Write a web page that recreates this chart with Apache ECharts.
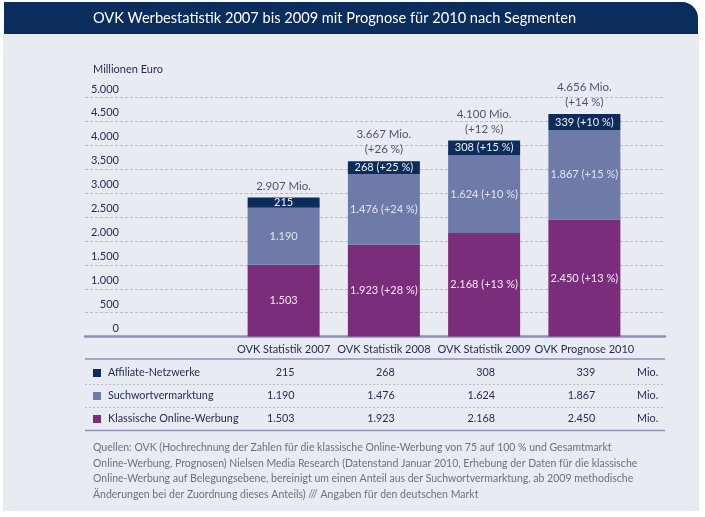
<!DOCTYPE html>
<html>
<head>
<meta charset="utf-8">
<script src="https://cdn.jsdelivr.net/npm/echarts@6/dist/echarts.min.js"></script>
<style>
html,body{margin:0;padding:0;background:#ffffff;}
#c{width:705px;height:517px;}
</style>
</head>
<body>
<div id="c"></div>
<script>
const titleText = 'OVK Werbestatistik 2007 bis 2009 mit Prognose für 2010 nach Segmenten';
const unitLabel = 'Millionen Euro';
const categories = ['OVK Statistik 2007', 'OVK Statistik 2008', 'OVK Statistik 2009', 'OVK Prognose 2010'];
const seriesNames = ['Affiliate-Netzwerke', 'Suchwortvermarktung', 'Klassische Online-Werbung'];
const affiliate = [215, 268, 308, 339];
const suchwort = [1190, 1476, 1624, 1867];
const klassisch = [1503, 1923, 2168, 2450];
const affGrowth = [null, 25, 15, 10];
const suchGrowth = [null, 24, 10, 15];
const klassGrowth = [null, 28, 13, 13];
const totals = [2907, 3667, 4100, 4656];
const totalGrowth = [null, 26, 12, 14];
const yMin = 0, yMax = 5000, yStep = 500;
const unitSuffix = 'Mio.';
const footnote = [
  'Quellen: OVK (Hochrechnung der Zahlen für die klassische Online-Werbung von 75 auf 100 % und Gesamtmarkt',
  'Online-Werbung, Prognosen) Nielsen Media Research (Datenstand Januar 2010, Erhebung der Daten für die klassische',
  'Online-Werbung auf Belegungsebene, bereinigt um einen Anteil aus der Suchwortvermarktung, ab 2009 methodische',
  'Änderungen bei der Zuordnung dieses Anteils) /// Angaben für den deutschen Markt'
];

const FONT = 'Lato';
const C_NAVY = '#0d2c5c';
const C_SLATE = '#6e7aa8';
const C_PURPLE = '#7a2d7b';
const C_TEXT = '#1e2a4c';
const C_LINE = '#8d92b8';
const C_BG = '#e9ebf3';

function fmt(v) { return String(v).replace(/\B(?=(\d{3})+(?!\d))/g, '.'); }
function segLabel(vals, gr) {
  return function (p) {
    const g = gr[p.dataIndex];
    return fmt(vals[p.dataIndex]) + (g != null ? ' (+' + g + ' %)' : '');
  };
}

const chart = echarts.init(document.getElementById('c'), null, { renderer: 'canvas' });

const gridTop = 97.5, gridBottom = 517 - 336.6;

chart.setOption({
  animation: false,
  textStyle: { fontFamily: FONT },
  grid: [
    { left: 85, right: 40, top: gridTop, bottom: gridBottom },
    { left: 233.5, right: 70.5, top: gridTop, bottom: gridBottom }
  ],
  xAxis: [
    { type: 'category', gridIndex: 0, data: categories,
      axisLine: { show: true, lineStyle: { color: C_LINE, width: 2.5 } },
      axisTick: { show: false }, axisLabel: { show: false }, splitLine: { show: false } },
    { type: 'category', gridIndex: 1, data: categories,
      axisLine: { show: false }, axisTick: { show: false },
      axisLabel: { show: true, interval: 0, margin: 7, color: C_TEXT, fontSize: 11, fontFamily: FONT } }
  ],
  yAxis: [
    { type: 'value', gridIndex: 0, min: yMin, max: yMax, interval: yStep,
      axisLine: { show: false }, axisTick: { show: false },
      splitLine: { show: true, lineStyle: { color: '#b7bbcb', type: [3, 2], width: 1 } },
      axisLabel: { inside: true, margin: 34, align: 'right', verticalAlign: 'bottom',
        padding: [0, 0, 3, 0], color: C_TEXT, fontSize: 11, fontFamily: FONT,
        formatter: function (v) { return fmt(v); } } },
    { type: 'value', gridIndex: 1, min: yMin, max: yMax, interval: yStep, show: false }
  ],
  series: [
    { name: seriesNames[2], type: 'bar', stack: 'a', xAxisIndex: 1, yAxisIndex: 1, barWidth: 72,
      data: klassisch, itemStyle: { color: C_PURPLE },
      label: { show: true, position: 'inside', color: '#f6e9f6', fontSize: 11, fontFamily: FONT,
        formatter: segLabel(klassisch, klassGrowth) } },
    { name: seriesNames[1], type: 'bar', stack: 'a', xAxisIndex: 1, yAxisIndex: 1, barWidth: 72,
      data: suchwort, itemStyle: { color: C_SLATE },
      label: { show: true, position: 'inside', color: '#e2e5f1', fontSize: 11, fontFamily: FONT,
        formatter: segLabel(suchwort, suchGrowth) } },
    { name: seriesNames[0], type: 'bar', stack: 'a', xAxisIndex: 1, yAxisIndex: 1, barWidth: 72,
      data: affiliate, itemStyle: { color: C_NAVY },
      label: { show: true, position: 'inside', color: '#eef0f6', fontSize: 11, fontFamily: FONT,
        formatter: segLabel(affiliate, affGrowth) } },
    { name: 'Gesamt', type: 'scatter', xAxisIndex: 1, yAxisIndex: 1, symbolSize: 0,
      data: totals, silent: true,
      label: { show: true, position: 'top', distance: 4, color: C_TEXT, fontSize: 11.5, lineHeight: 15,
        fontFamily: FONT,
        formatter: function (p) {
          const g = totalGrowth[p.dataIndex];
          return fmt(totals[p.dataIndex]) + ' Mio.' + (g != null ? '\n(+' + g + ' %)' : '');
        } } }
  ]
});

const colX = categories.map(function (c) { return chart.convertToPixel({ xAxisIndex: 1 }, c); });
const tableLeft = 85, tableRight = 665;
const rowY = [373, 396, 419];
const rowVals = [affiliate, suchwort, klassisch];
const rowColors = [C_NAVY, C_SLATE, C_PURPLE];
const TF = '10.8px ' + FONT;

const g = [];
g.push({ type: 'rect', z: -100, shape: { x: 3, y: 30, width: 696, height: 481 }, style: { fill: C_BG } });
g.push({ type: 'rect', z: -99, shape: { x: 4, y: 2, width: 694, height: 32, r: [0, 16, 0, 0] }, style: { fill: '#0b2d5e' } });
g.push({ type: 'text', z: 10, x: 334.5, y: 18, style: { text: titleText, fill: '#ffffff', font: '14.6px ' + FONT, textAlign: 'center', textVerticalAlign: 'middle' } });
g.push({ type: 'text', z: 10, x: 93, y: 69, style: { text: unitLabel, fill: C_TEXT, font: '11px ' + FONT, textAlign: 'left', textVerticalAlign: 'middle' } });

g.push({ type: 'line', z: 5, shape: { x1: tableLeft, y1: 359, x2: tableRight, y2: 359 }, style: { stroke: C_LINE, lineWidth: 1.5 } });
g.push({ type: 'line', z: 5, shape: { x1: tableLeft, y1: 384.5, x2: tableRight, y2: 384.5 }, style: { stroke: '#b9bdcc', lineWidth: 1, lineDash: [2, 2] } });
g.push({ type: 'line', z: 5, shape: { x1: tableLeft, y1: 407.5, x2: tableRight, y2: 407.5 }, style: { stroke: '#b9bdcc', lineWidth: 1, lineDash: [2, 2] } });
g.push({ type: 'line', z: 5, shape: { x1: tableLeft, y1: 430.5, x2: tableRight, y2: 430.5 }, style: { stroke: C_LINE, lineWidth: 1.5 } });

rowY.forEach(function (y, r) {
  g.push({ type: 'rect', z: 10, shape: { x: 93, y: y - 4, width: 8, height: 8 }, style: { fill: rowColors[r] } });
  g.push({ type: 'text', z: 10, x: 108, y: y, style: { text: seriesNames[r], fill: C_TEXT, font: TF, textAlign: 'left', textVerticalAlign: 'middle' } });
  rowVals[r].forEach(function (v, i) {
    g.push({ type: 'text', z: 10, x: colX[i] + 11, y: y, style: { text: fmt(v), fill: C_TEXT, font: TF, textAlign: 'right', textVerticalAlign: 'middle' } });
  });
  g.push({ type: 'text', z: 10, x: 637, y: y, style: { text: unitSuffix, fill: C_TEXT, font: TF, textAlign: 'left', textVerticalAlign: 'middle' } });
});

footnote.forEach(function (line, i) {
  g.push({ type: 'text', z: 10, x: 93, y: 448 + i * 15.5, style: { text: line, fill: '#6d7080', font: '10.5px ' + FONT, textAlign: 'left', textVerticalAlign: 'middle' } });
});

chart.setOption({ graphic: g });
</script>
</body>
</html>
